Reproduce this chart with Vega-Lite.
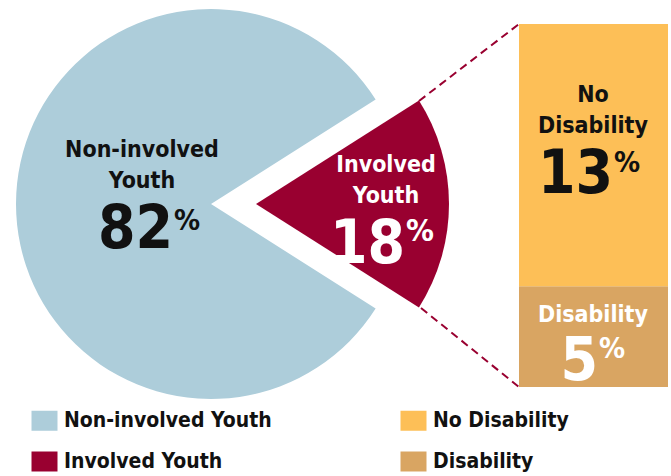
{
  "$schema": "https://vega.github.io/schema/vega-lite/v6.json",
  "width": 671,
  "height": 476,
  "autosize": {"type": "none"},
  "padding": 0,
  "background": "white",
  "config": {
    "view": {"stroke": null},
    "font": "DejaVu Sans Condensed, Liberation Sans Narrow, Roboto",
    "text": {"font": "DejaVu Sans Condensed, Liberation Sans Narrow, Roboto", "fontWeight": "bold"},
    "legend": {
      "orient": "none",
      "legendX": 34,
      "legendY": 410,
      "columns": 2,
      "title": null,
      "symbolType": "M-1.3,-1L1.3,-1L1.3,1L-1.3,1Z",
      "symbolSize": 400,
      "symbolStrokeWidth": 0,
      "symbolOpacity": 1,
      "labelFont": "DejaVu Sans Condensed, Liberation Sans Narrow, Roboto",
      "labelFontWeight": "bold",
      "labelFontSize": 21,
      "labelColor": "#111111",
      "labelOffset": 9,
      "labelLimit": 400,
      "rowPadding": 19,
      "columnPadding": 128
    }
  },
  "datasets": {
    "pie": [
      {"group": "Involved Youth", "pct": 18, "rank": 1},
      {"group": "Non-involved Youth", "pct": 82, "rank": 2}
    ],
    "bar": [
      {"group": "Disability", "pct": 5, "rank": 1},
      {"group": "No Disability", "pct": 13, "rank": 2}
    ]
  },
  "layer": [
    {
      "data": {"name": "pie"},
      "mark": {"type": "arc", "radius": 195},
      "encoding": {
        "theta": {"field": "pct", "type": "quantitative", "stack": true, "scale": {"range": [1.00531, 7.28850]}},
        "order": {"field": "rank", "type": "quantitative"},
        "color": {
          "field": "group",
          "type": "nominal",
          "scale": {
            "domain": ["Non-involved Youth", "Involved Youth", "No Disability", "Disability"],
            "range": ["#ADCDDA", "#990030", "#FDBF57", "#D9A562"]
          }
        },
        "opacity": {"condition": {"test": "datum.group === 'Involved Youth'", "value": 0}, "value": 1},
        "x": {"value": 211},
        "y": {"value": 204}
      }
    },
    {
      "data": {"name": "pie"},
      "mark": {"type": "arc", "radius": 193},
      "encoding": {
        "theta": {"field": "pct", "type": "quantitative", "stack": true},
        "order": {"field": "rank", "type": "quantitative"},
        "color": {"field": "group", "type": "nominal"},
        "opacity": {"condition": {"test": "datum.group === 'Involved Youth'", "value": 1}, "value": 0},
        "x": {"value": 256},
        "y": {"value": 204}
      }
    },
    {
      "data": {"name": "bar"},
      "transform": [
        {"stack": "pct", "groupby": [], "sort": [{"field": "rank", "order": "ascending"}], "as": ["y0", "y1"]}
      ],
      "mark": {"type": "rect"},
      "encoding": {
        "y": {"field": "y0", "type": "quantitative", "axis": null, "scale": {"domain": [0, 18], "range": [387, 24]}},
        "y2": {"field": "y1"},
        "color": {"field": "group", "type": "nominal"},
        "x": {"value": 519},
        "x2": {"value": 668}
      }
    },
    {
      "data": {"values": [{"link": "top"}]},
      "mark": {"type": "rule", "color": "#990030", "strokeWidth": 2, "strokeDash": [8, 5]},
      "encoding": {"x": {"value": 419}, "y": {"value": 101}, "x2": {"value": 519}, "y2": {"value": 24}}
    },
    {
      "data": {"values": [{"link": "bottom"}]},
      "mark": {"type": "rule", "color": "#990030", "strokeWidth": 2, "strokeDash": [8, 5]},
      "encoding": {"x": {"value": 421}, "y": {"value": 308}, "x2": {"value": 519}, "y2": {"value": 387}}
    },
    {
      "data": {"name": "pie"},
      "transform": [{"filter": "datum.group === 'Non-involved Youth'"}],
      "layer": [
        {
          "mark": {"type": "text", "fontSize": 23, "lineBreak": " ", "lineHeight": 31, "align": "center", "baseline": "alphabetic", "color": "#111111"},
          "encoding": {"text": {"field": "group"}, "x": {"value": 142}, "y": {"value": 157}}
        },
        {
          "mark": {"type": "text", "fontSize": 60, "align": "right", "baseline": "alphabetic", "color": "#111111"},
          "encoding": {"text": {"field": "pct", "type": "quantitative"}, "x": {"value": 173}, "y": {"value": 248}}
        },
        {
          "mark": {"type": "text", "fontSize": 29, "align": "left", "baseline": "alphabetic", "color": "#111111", "text": "%"},
          "encoding": {"x": {"value": 174}, "y": {"value": 230}}
        }
      ]
    },
    {
      "data": {"name": "pie"},
      "transform": [{"filter": "datum.group === 'Involved Youth'"}],
      "layer": [
        {
          "mark": {"type": "text", "fontSize": 23, "lineBreak": " ", "lineHeight": 31, "align": "center", "baseline": "alphabetic", "color": "white"},
          "encoding": {"text": {"field": "group"}, "x": {"value": 386}, "y": {"value": 172}}
        },
        {
          "mark": {"type": "text", "fontSize": 60, "align": "right", "baseline": "alphabetic", "color": "white"},
          "encoding": {"text": {"field": "pct", "type": "quantitative"}, "x": {"value": 405}, "y": {"value": 263}}
        },
        {
          "mark": {"type": "text", "fontSize": 31, "align": "left", "baseline": "alphabetic", "color": "white", "text": "%"},
          "encoding": {"x": {"value": 406}, "y": {"value": 241}}
        }
      ]
    },
    {
      "data": {"name": "bar"},
      "transform": [{"filter": "datum.group === 'No Disability'"}],
      "layer": [
        {
          "mark": {"type": "text", "fontSize": 23, "lineBreak": " ", "lineHeight": 31, "align": "center", "baseline": "alphabetic", "color": "#111111"},
          "encoding": {"text": {"field": "group"}, "x": {"value": 593}, "y": {"value": 102}}
        },
        {
          "mark": {"type": "text", "fontSize": 60, "align": "right", "baseline": "alphabetic", "color": "#111111"},
          "encoding": {"text": {"field": "pct", "type": "quantitative"}, "x": {"value": 613}, "y": {"value": 193}}
        },
        {
          "mark": {"type": "text", "fontSize": 29, "align": "left", "baseline": "alphabetic", "color": "#111111", "text": "%"},
          "encoding": {"x": {"value": 614}, "y": {"value": 172}}
        }
      ]
    },
    {
      "data": {"name": "bar"},
      "transform": [{"filter": "datum.group === 'Disability'"}],
      "layer": [
        {
          "mark": {"type": "text", "fontSize": 23, "align": "center", "baseline": "alphabetic", "color": "white"},
          "encoding": {"text": {"field": "group"}, "x": {"value": 593}, "y": {"value": 322}}
        },
        {
          "mark": {"type": "text", "fontSize": 60, "align": "right", "baseline": "alphabetic", "color": "white"},
          "encoding": {"text": {"field": "pct", "type": "quantitative"}, "x": {"value": 598}, "y": {"value": 380}}
        },
        {
          "mark": {"type": "text", "fontSize": 29, "align": "left", "baseline": "alphabetic", "color": "white", "text": "%"},
          "encoding": {"x": {"value": 599}, "y": {"value": 358}}
        }
      ]
    }
  ]
}
